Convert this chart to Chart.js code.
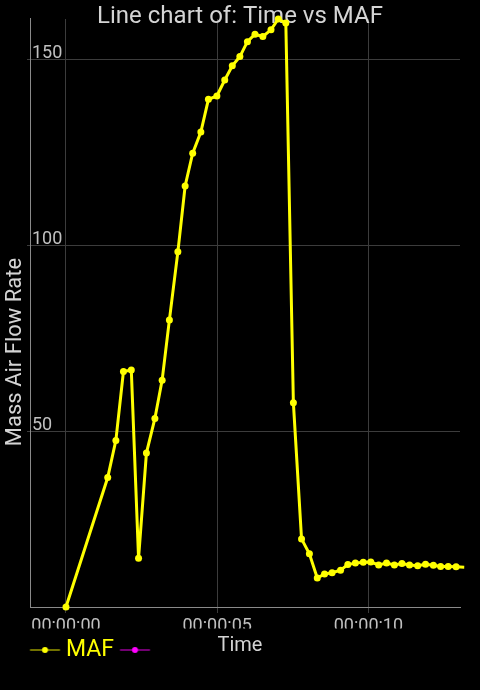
<!DOCTYPE html>
<html>
<head>
<meta charset="utf-8">
<title>Line chart of: Time vs MAF</title>
<script src="https://cdn.jsdelivr.net/npm/chart.js@4.4.1/dist/chart.umd.min.js"></script>
<style>
  html, body { margin: 0; padding: 0; background: #000; }
  #wrap { width: 480px; height: 690px; }
</style>
</head>
<body>
<div id="wrap"><canvas id="mafChart"></canvas></div>
<script>
// sample times (seconds from start) and mass air flow readings
const times = [0, 1.38, 1.65, 1.90, 2.16, 2.40, 2.66, 2.94, 3.18, 3.42, 3.70, 3.94,
    4.19, 4.46, 4.71, 4.99, 5.25, 5.50, 5.75, 6.00, 6.25, 6.51, 6.78, 7.02, 7.27,
    7.52, 7.79, 8.05, 8.31, 8.55, 8.80, 9.08, 9.32, 9.57, 9.83, 10.08, 10.34, 10.60,
    10.86, 11.11, 11.36, 11.63, 11.89, 12.15, 12.39, 12.64, 12.90, 13.17, 13.42, 13.66];
const maf = [2.9, 37.7, 47.7, 66.2, 66.6, 16.0, 44.3, 53.6, 63.9, 80.1, 98.4, 116.1,
    124.9, 130.6, 139.4, 140.3, 144.6, 148.4, 150.9, 154.9, 156.9, 156.3, 158.1, 161.0, 159.9,
    57.8, 21.2, 17.2, 10.7, 11.8, 12.1, 12.8, 14.3, 14.7, 14.9, 15.0, 14.2, 14.7,
    14.2, 14.6, 14.2, 14.0, 14.4, 14.1, 13.8, 13.8, 13.7, 13.6, 13.8, 13.5];

const seriesLabels = ['MAF', ''];
const seriesColors = ['#ffff00', '#ff00ff'];
const xTicks = [0, 5, 10];
const yTicks = [50, 100, 150];

const chartTitle = 'Line chart of: Time vs MAF';
const xTitle = 'Time';
const yTitle = 'Mass Air Flow Rate';

const FONT = 'Roboto';
const TEXT_COLOR = '#d4d4d4';

function fmtTime(s) {
    const sec = Math.round(s);
    const pad = n => String(n).padStart(2, '0');
    return pad(Math.floor(sec / 3600)) + ':' + pad(Math.floor(sec / 60) % 60) + ':' + pad(sec % 60);
}

// legend marker: thin line with a dot in the middle
function legendMarker(color, from, to) {
    const c = document.createElement('canvas');
    c.width = 60;
    c.height = 10;
    const g = c.getContext('2d');
    g.strokeStyle = color;
    g.globalAlpha = 0.75;
    g.lineWidth = 1.2;
    g.beginPath();
    g.moveTo(from, 5);
    g.lineTo(to, 5);
    g.stroke();
    g.globalAlpha = 1;
    g.fillStyle = color;
    g.beginPath();
    g.arc((from + to) / 2, 5, 3, 0, Math.PI * 2);
    g.fill();
    return c;
}
const markers = [legendMarker(seriesColors[0], 27.75, 57.75), legendMarker(seriesColors[1], 3.75, 33.75)];

// axis titles drawn at the spots the original uses
const axisTitles = {
    id: 'axisTitles',
    afterDraw(chart) {
        const ctx = chart.ctx;
        ctx.save();
        ctx.fillStyle = TEXT_COLOR;
        ctx.textAlign = 'center';
        ctx.textBaseline = 'middle';
        ctx.font = '20px ' + FONT;
        ctx.fillText(xTitle, 240, 646);
        ctx.translate(15, 352);
        ctx.rotate(-Math.PI / 2);
        ctx.font = '22px ' + FONT;
        ctx.fillText(yTitle, 0, 0);
        ctx.restore();
    }
};

const ctx = document.getElementById('mafChart').getContext('2d');
const chart = new Chart(ctx, {
    type: 'line',
    data: {
        datasets: [
            {
                label: seriesLabels[0],
                data: times.map((t, i) => ({ x: t, y: maf[i] })),
                borderColor: seriesColors[0],
                backgroundColor: seriesColors[0],
                borderWidth: 3,
                pointRadius: 3.5,
                pointBorderWidth: 0,
                tension: 0,
                clip: false
            },
            {
                label: seriesLabels[1],
                data: [],
                borderColor: seriesColors[1],
                backgroundColor: seriesColors[1]
            }
        ]
    },
    options: {
        responsive: true,
        maintainAspectRatio: false,
        animation: false,
        layout: { padding: { bottom: 18.5 } },
        plugins: {
            title: {
                display: true,
                text: chartTitle,
                color: TEXT_COLOR,
                font: { family: FONT, size: 24, weight: 'normal' },
                padding: { top: 3, bottom: -12.8 }
            },
            legend: {
                position: 'bottom',
                align: 'start',
                labels: {
                    usePointStyle: true,
                    pointStyleWidth: 44.5,
                    padding: 10,
                    font: { family: FONT, size: 23 },
                    generateLabels: (c) => c.data.datasets.map((ds, i) => ({
                        text: ds.label,
                        fillStyle: ds.borderColor,
                        strokeStyle: ds.borderColor,
                        fontColor: ds.borderColor,
                        lineWidth: 0,
                        pointStyle: markers[i],
                        hidden: false,
                        datasetIndex: i
                    }))
                }
            },
            tooltip: { enabled: false }
        },
        scales: {
            x: {
                type: 'linear',
                min: -1.19,
                max: 13.03,
                afterBuildTicks: (s) => { s.ticks = xTicks.map(v => ({ value: v })); },
                afterFit: (s) => { s.height = 21.5; },
                ticks: {
                    color: '#c0c0c0',
                    font: { family: FONT, size: 18 },
                    padding: 3,
                    maxRotation: 0,
                    autoSkip: false,
                    callback: (v) => fmtTime(v)
                },
                grid: { color: '#3c3c3c', tickLength: 6 },
                border: { color: '#8a8a8a' }
            },
            y: {
                type: 'linear',
                min: 2.9,
                max: 161,
                afterBuildTicks: (s) => { s.ticks = yTicks.map(v => ({ value: v })); },
                afterFit: (s) => { s.width = 30; },
                ticks: {
                    color: '#c0c0c0',
                    font: { family: FONT, size: 18 },
                    mirror: true,
                    padding: 2,
                    labelOffset: -6
                },
                grid: { color: '#3c3c3c', tickLength: 3 },
                border: { color: '#8a8a8a' }
            },
            yRight: {
                type: 'linear',
                position: 'right',
                afterFit: (s) => { s.width = 20; },
                grid: { display: false },
                border: { display: false },
                ticks: { display: false }
            }
        }
    },
    plugins: [axisTitles]
});
</script>
</body>
</html>
